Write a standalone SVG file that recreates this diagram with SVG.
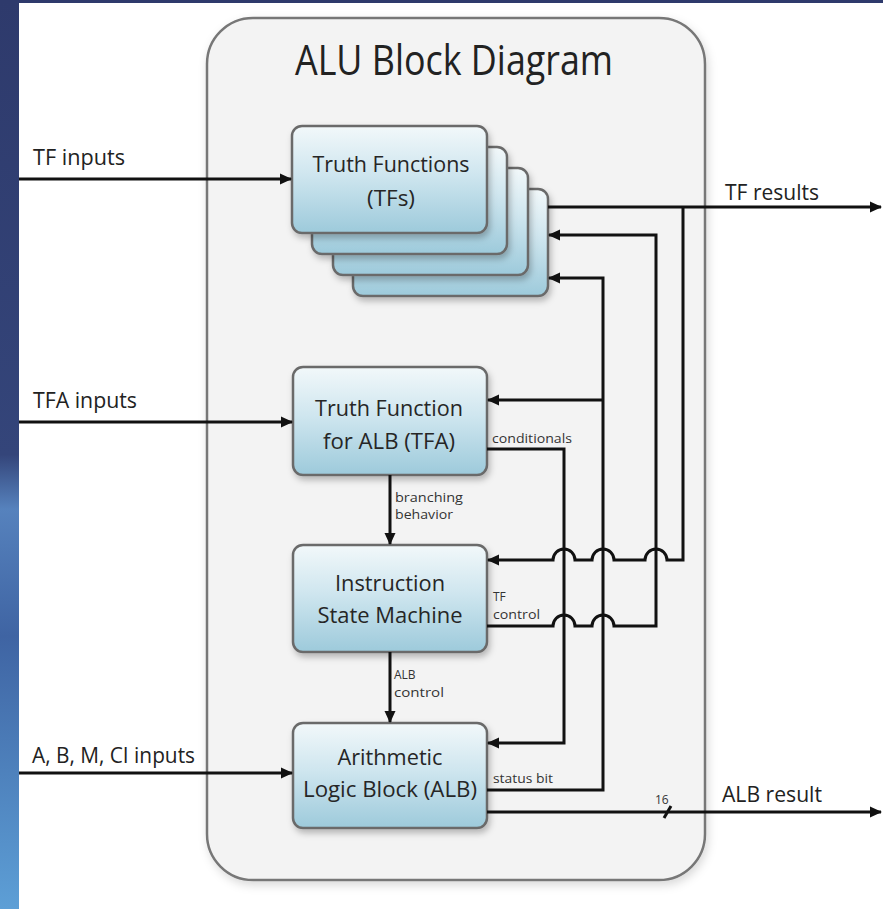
<svg xmlns="http://www.w3.org/2000/svg" width="883" height="909" viewBox="0 0 883 909">
<defs>
<linearGradient id="strip" x1="0" y1="0" x2="0" y2="1">
<stop offset="0" stop-color="#2e3a6c"/>
<stop offset="0.5" stop-color="#34457a"/>
<stop offset="0.56" stop-color="#5682bd"/>
<stop offset="0.7" stop-color="#3f64a3"/>
<stop offset="1" stop-color="#5d9fd6"/>
</linearGradient>
<linearGradient id="box" x1="0" y1="0" x2="0" y2="1">
<stop offset="0" stop-color="#f2f8fa"/>
<stop offset="0.45" stop-color="#cfe6ef"/>
<stop offset="1" stop-color="#9dcadb"/>
</linearGradient>
<filter id="sh" x="-10%" y="-10%" width="130%" height="130%">
<feDropShadow dx="2" dy="4" stdDeviation="3" flood-color="#000" flood-opacity="0.25"/>
</filter>
<filter id="sh2" x="-5%" y="-5%" width="110%" height="110%">
<feDropShadow dx="2" dy="4" stdDeviation="5" flood-color="#000" flood-opacity="0.15"/>
</filter>
<marker id="ah" markerUnits="userSpaceOnUse" markerWidth="13" markerHeight="13" refX="11" refY="6.5" orient="auto">
<path d="M0,1 L12,6.5 L0,12 Z" fill="#111"/>
</marker>
<style>
.node rect{fill:url(#box);stroke:#6a6a6a;stroke-width:2.5;filter:url(#sh)}
.nt{font-family:"Open Sans","Liberation Sans",sans-serif;font-size:22px;fill:#262626;text-anchor:middle}
.lt{font-family:"Open Sans","Liberation Sans",sans-serif;font-size:21px;fill:#222}
.st{font-family:"Open Sans","Liberation Sans",sans-serif;font-size:12px;fill:#333}
.c{fill:none;stroke:#111;stroke-width:3}
.ca{fill:none;stroke:#111;stroke-width:3;marker-end:url(#ah)}
</style>
</defs>
<rect x="0" y="0" width="883" height="909" fill="#ffffff"/>
<rect x="0" y="0" width="19" height="909" fill="url(#strip)"/>
<rect x="0" y="0" width="883" height="3" fill="#2e3a6c"/>

<g id="frame">
<rect x="207" y="18" width="498" height="862" rx="46" fill="#f3f3f3" stroke="#777" stroke-width="2.5" filter="url(#sh2)"/>
<text x="454" y="75" font-family="'Open Sans','Liberation Sans',sans-serif" font-size="42" fill="#222" text-anchor="middle" textLength="318" lengthAdjust="spacingAndGlyphs">ALU Block Diagram</text>
</g>

<g id="tfs" class="node">
<rect x="353" y="189" width="195" height="107" rx="10"/>
<rect x="333" y="168" width="195" height="107" rx="10"/>
<rect x="312" y="147" width="195" height="107" rx="10"/>
<rect x="292" y="126" width="195" height="107" rx="10"/>
<text class="nt" x="391" y="172" textLength="157" lengthAdjust="spacingAndGlyphs">Truth Functions</text>
<text class="nt" x="391" y="206" textLength="48" lengthAdjust="spacingAndGlyphs">(TFs)</text>
</g>

<g id="tfa" class="node">
<rect x="293" y="367" width="194" height="108" rx="10"/>
<text class="nt" x="389" y="416" textLength="148" lengthAdjust="spacingAndGlyphs">Truth Function</text>
<text class="nt" x="389" y="449" textLength="132" lengthAdjust="spacingAndGlyphs">for ALB (TFA)</text>
</g>

<g id="ism" class="node">
<rect x="293" y="545" width="194" height="107" rx="10"/>
<text class="nt" x="390" y="591" textLength="110" lengthAdjust="spacingAndGlyphs">Instruction</text>
<text class="nt" x="390" y="623" textLength="145" lengthAdjust="spacingAndGlyphs">State Machine</text>
</g>

<g id="alb" class="node">
<rect x="293" y="723" width="194" height="105" rx="10"/>
<text class="nt" x="390" y="765" textLength="105" lengthAdjust="spacingAndGlyphs">Arithmetic</text>
<text class="nt" x="390" y="797" textLength="174" lengthAdjust="spacingAndGlyphs">Logic Block (ALB)</text>
</g>

<g id="connectors">
<path class="ca" d="M19,179 H291"/>
<path class="ca" d="M19,422 H292"/>
<path class="ca" d="M19,773 H292"/>
<path class="ca" d="M548,207 H881"/>
<path class="ca" d="M683,207 V560 H667 A11,11 0 0 0 645,560 H614 A11,11 0 0 0 592,560 H575 A11,11 0 0 0 553,560 H488"/>
<path class="ca" d="M487,626 H553 A11,11 0 0 1 575,626 H592 A11,11 0 0 1 614,626 H656 V235 H549"/>
<path class="ca" d="M487,790 H603 V278 H549"/>
<path class="ca" d="M603,400 H488"/>
<path class="ca" d="M487,449 H564 V743 H488"/>
<path class="ca" d="M390,475 V544"/>
<path class="ca" d="M390,652 V722"/>
<path class="ca" d="M487,812 H881"/>
<path class="c" d="M664,818 L671,806" stroke-width="2"/>
</g>

<g id="labels">
<text class="lt" x="33" y="165" textLength="92" lengthAdjust="spacingAndGlyphs">TF inputs</text>
<text class="lt" x="33" y="408" textLength="104" lengthAdjust="spacingAndGlyphs">TFA inputs</text>
<text class="lt" x="32" y="763" textLength="163" lengthAdjust="spacingAndGlyphs">A, B, M, CI inputs</text>
<text class="lt" x="725" y="200" textLength="94" lengthAdjust="spacingAndGlyphs">TF results</text>
<text class="lt" x="722" y="802" textLength="100" lengthAdjust="spacingAndGlyphs">ALB result</text>
<text class="st" x="492" y="443" textLength="80" lengthAdjust="spacingAndGlyphs">conditionals</text>
<text class="st" x="395" y="502" textLength="68" lengthAdjust="spacingAndGlyphs">branching</text>
<text class="st" x="395" y="519" textLength="58" lengthAdjust="spacingAndGlyphs">behavior</text>
<text class="st" x="493" y="601">TF</text>
<text class="st" x="493" y="619" textLength="47" lengthAdjust="spacingAndGlyphs">control</text>
<text class="st" x="394" y="679">ALB</text>
<text class="st" x="394" y="697" textLength="50" lengthAdjust="spacingAndGlyphs">control</text>
<text class="st" x="493" y="783" textLength="60" lengthAdjust="spacingAndGlyphs">status bit</text>
<text class="st" x="655" y="804" font-size="8">16</text>
</g>
</svg>
